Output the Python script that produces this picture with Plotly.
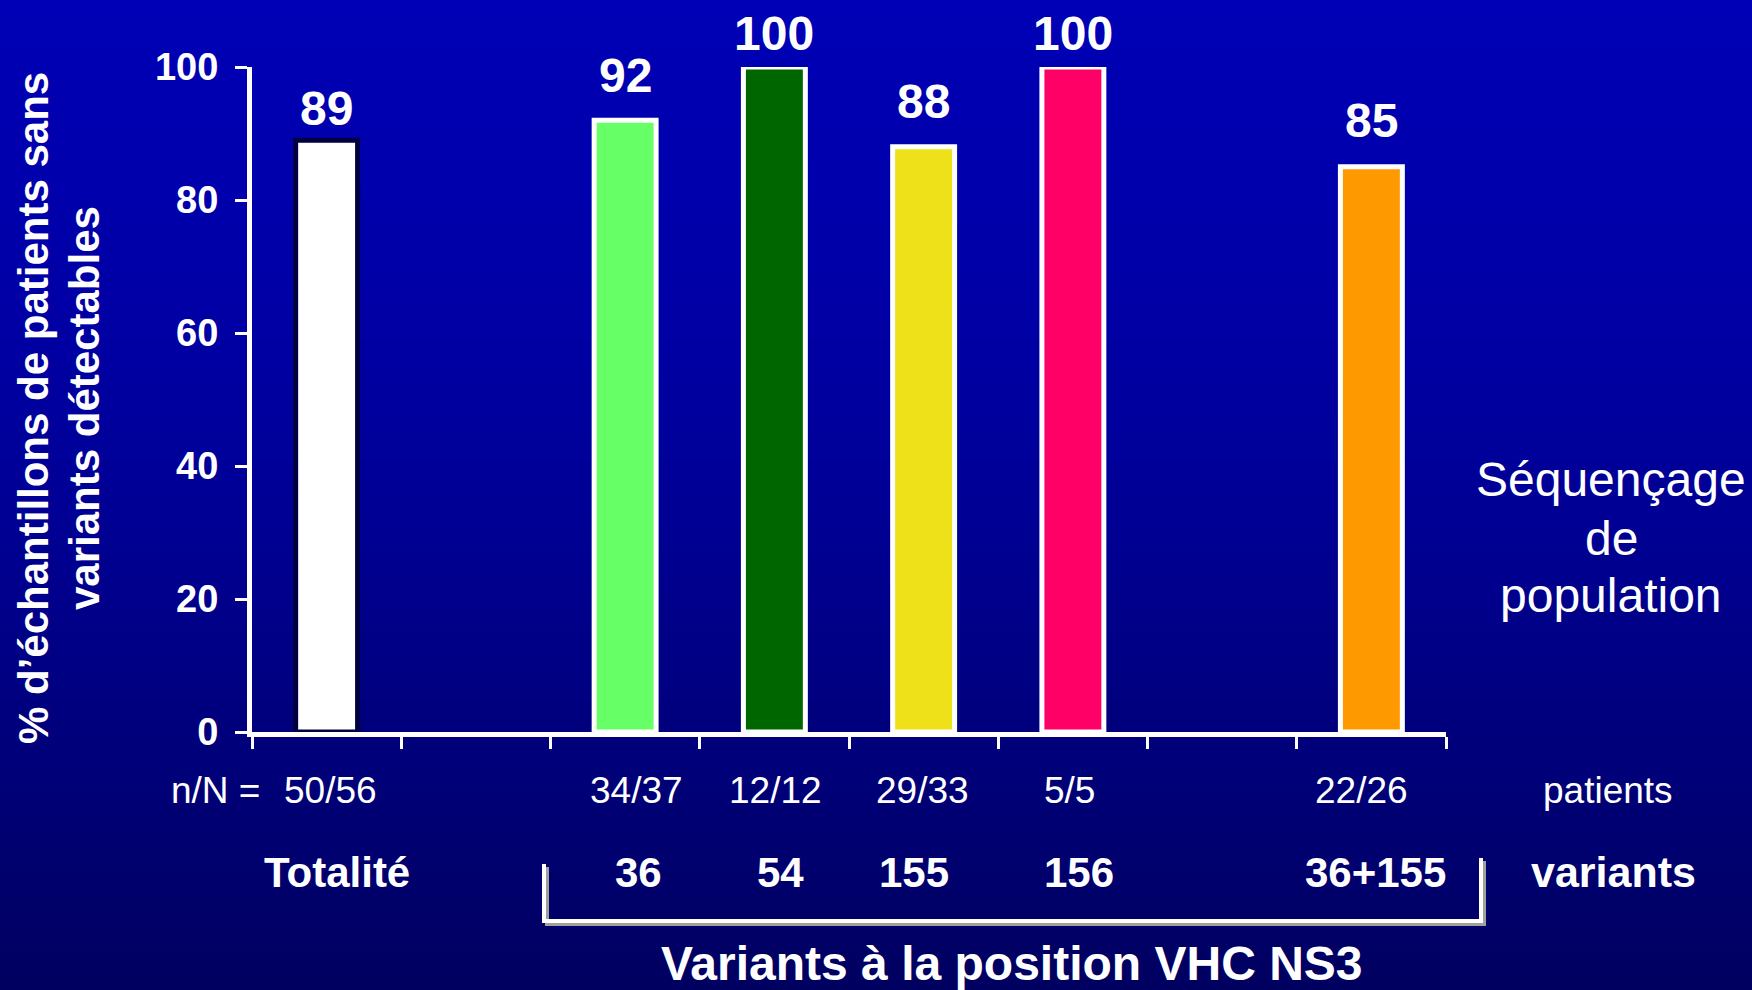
import plotly.graph_objects as go

# ---------------- data ----------------
categories = ["Totalité", " ", "36", "54", "155", "156", "  ", "36+155"]
pct_values = [89, None, 92, 100, 88, 100, None, 85]
patients_nN = ["50/56", "", "34/37", "12/12", "29/33", "5/5", "", "22/26"]
variant_labels = ["Totalité", "", "36", "54", "155", "156", "", "36+155"]
bar_colors = ["#FFFFFF", "rgba(0,0,0,0)", "#66FF66", "#006600", "#EEE11A",
              "#FF0066", "rgba(0,0,0,0)", "#FF9900"]
outline_colors = ["#000040", "rgba(0,0,0,0)", "#FFFFFF", "#FFFFFF", "#FFFFFF",
                  "#FFFFFF", "rgba(0,0,0,0)", "#FFFFFF"]
y_ticks = [0, 20, 40, 60, 80, 100]

# small nudges (pixels) of labels, as placed on the slide
value_nudge = [-2, 0, 11, 0, 12, 0, 0, 13]
nN_nudge = [4, 0, 11, 1, -1, -3, 0, -10]
variant_nudge = [10, 0, 13, 6, -10, 6, 0, 4]

FONT = "Arial, Liberation Sans, sans-serif"

# ---------------- geometry helpers ----------------
W, H = 1752, 990
L, R, T, B = 252, 306, 67, 258
PW, PH = W - L - R, H - T - B


def px_x(px):
    return (px - L) / PW


def px_y(py):
    return (H - B - py) / PH


fig = go.Figure()

fig.add_trace(go.Bar(
    x=categories,
    y=pct_values,
    width=0.415,
    marker=dict(color=bar_colors, line=dict(color=outline_colors, width=5)),
    cliponaxis=False,
    hoverinfo="skip",
))

# ---------------- background gradient (decoration) ----------------
stops = [(0, (0, 0, 182)), (300, (0, 0, 166)), (500, (0, 0, 150)),
         (700, (0, 0, 128)), (990, (0, 0, 96))]


def grad_color(py):
    for (a, ca), (b, cb) in zip(stops[:-1], stops[1:]):
        if a <= py <= b:
            t = (py - a) / (b - a)
            return "rgb(%d,%d,%d)" % tuple(round(ca[k] + (cb[k] - ca[k]) * t) for k in range(3))
    return "rgb(%d,%d,%d)" % stops[-1][1]


shapes = []
band = 10
for y in range(0, H, band):
    shapes.append(dict(type="rect", xref="paper", yref="paper", layer="below",
                       x0=px_x(-5), x1=px_x(W + 5), y0=px_y(y + band + 1), y1=px_y(y),
                       fillcolor=grad_color(y + band / 2), line=dict(width=0)))


# bracket under variants
def bracket_path(dx, dy):
    pts = [(544 + dx, 864 + dy), (544 + dx, 921 + dy), (1481 + dx, 921 + dy), (1481 + dx, 858 + dy)]
    return "M " + " L ".join("%f,%f" % (px_x(a), px_y(b)) for a, b in pts)


shapes.append(dict(type="path", xref="paper", yref="paper", path=bracket_path(3, 3),
                   line=dict(color="#A0A0A0", width=4)))
shapes.append(dict(type="path", xref="paper", yref="paper", path=bracket_path(0, 0),
                   line=dict(color="#FFFFFF", width=4)))

# ---------------- annotations ----------------
ann = []
white = "white"
# value labels above bars
for i, v in enumerate(pct_values):
    if v is not None:
        ann.append(dict(x=i, xref="x", y=v, yref="y", text="<b>%d</b>" % v, showarrow=False,
                        font=dict(family=FONT, size=48, color=white),
                        xanchor="center", yanchor="bottom", yshift=5 + value_nudge[i]))
for i, nN in enumerate(patients_nN):
    if nN:
        ann.append(dict(x=i, xref="x", y=px_y(790), yref="paper", text=nN, showarrow=False,
                        xshift=nN_nudge[i],
                        font=dict(family=FONT, size=37, color=white), xanchor="center", yanchor="middle"))
for i, lab in enumerate(variant_labels):
    if lab:
        ann.append(dict(x=i, xref="x", y=px_y(872), yref="paper", text="<b>%s</b>" % lab, showarrow=False,
                        xshift=variant_nudge[i],
                        font=dict(family=FONT, size=42, color=white), xanchor="center", yanchor="middle"))

ann.append(dict(x=px_x(262), y=px_y(790), xref="paper", yref="paper", text="n/N =", showarrow=False,
                font=dict(family=FONT, size=37, color=white), xanchor="right", yanchor="middle"))
ann.append(dict(x=px_x(1608), y=px_y(790), xref="paper", yref="paper", text="patients", showarrow=False,
                font=dict(family=FONT, size=37, color=white), xanchor="center", yanchor="middle"))
ann.append(dict(x=px_x(1613), y=px_y(872), xref="paper", yref="paper", text="<b>variants</b>", showarrow=False,
                font=dict(family=FONT, size=43, color=white), xanchor="center", yanchor="middle"))
ann.append(dict(x=px_x(1012), y=px_y(963), xref="paper", yref="paper",
                text="<b>Variants à la position VHC NS3</b>", showarrow=False,
                font=dict(family=FONT, size=48, color=white), xanchor="center", yanchor="middle"))
for txt, py in zip(["Séquençage", "de", "population"], [480, 538, 595]):
    ann.append(dict(x=px_x(1611), y=px_y(py), xref="paper", yref="paper",
                    text=txt, showarrow=False,
                    font=dict(family=FONT, size=48, color=white), xanchor="center", yanchor="middle"))
# y-axis title (two lines, rotated)
ann.append(dict(x=px_x(33), y=px_y(408), xref="paper", yref="paper",
                text="<b>% d’échantillons de patients sans</b>", textangle=-90, showarrow=False,
                font=dict(family=FONT, size=42, color=white), xanchor="center", yanchor="middle"))
ann.append(dict(x=px_x(84), y=px_y(408), xref="paper", yref="paper",
                text="<b>variants détectables</b>", textangle=-90, showarrow=False,
                font=dict(family=FONT, size=42, color=white), xanchor="center", yanchor="middle"))

fig.update_layout(
    width=W, height=H,
    margin=dict(l=L, r=R, t=T, b=B, pad=0),
    paper_bgcolor="#000090",
    plot_bgcolor="rgba(0,0,0,0)",
    showlegend=False,
    shapes=shapes,
    annotations=ann,
    xaxis=dict(type="category", range=[-0.5, 7.5], showgrid=False, zeroline=False,
               showline=True, linecolor="white", linewidth=5,
               ticks="outside", tickson="boundaries", ticklen=12, tickwidth=3, tickcolor="white",
               showticklabels=False, fixedrange=True),
    yaxis=dict(range=[0, 100], tickvals=y_ticks, showgrid=False, zeroline=False,
               showline=True, linecolor="white", linewidth=5,
               ticks="outside", ticklen=12, tickwidth=3, tickcolor="white",
               ticklabelstandoff=9,
               tickfont=dict(family=FONT, size=38, color="white", weight="bold"),
               fixedrange=True),
)

fig.write_html(
    "out.html",
    config={"displayModeBar": False},
    post_script="document.body.style.margin='0';document.body.style.background='#000060';",
)
